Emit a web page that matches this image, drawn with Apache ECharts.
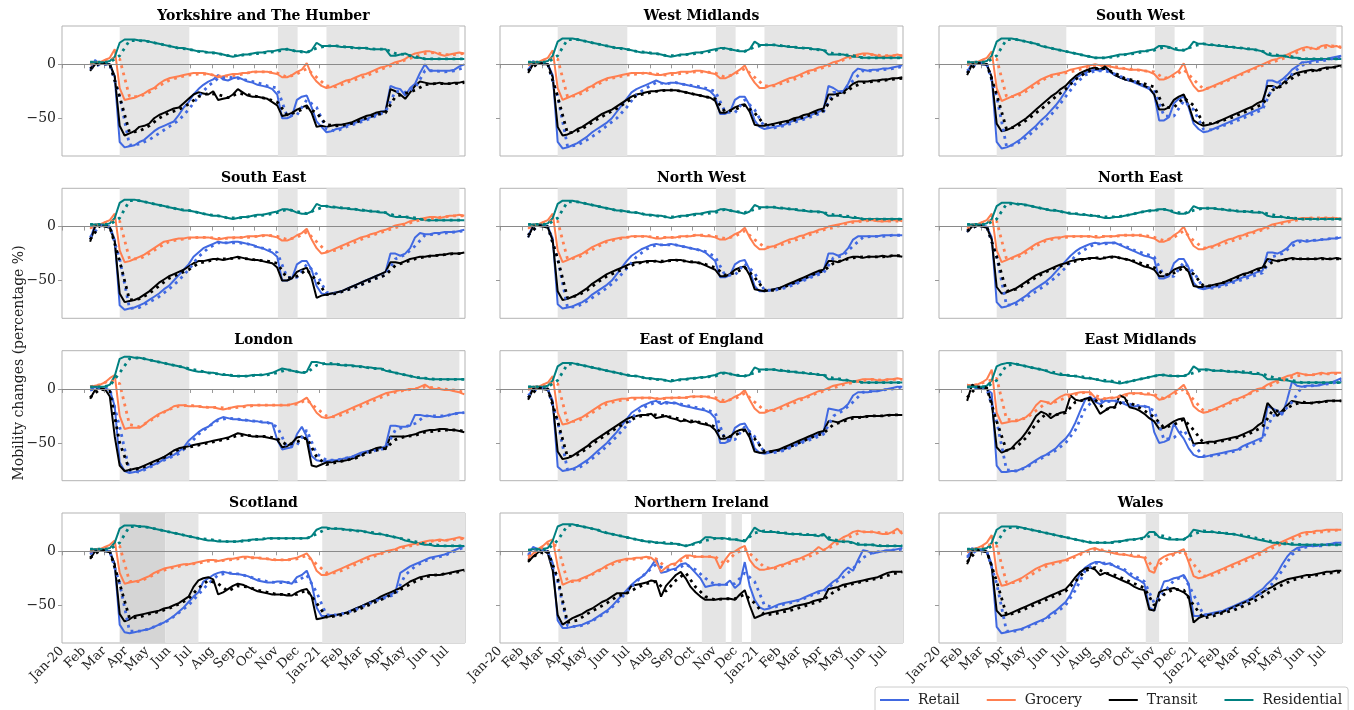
<!DOCTYPE html>
<html><head><meta charset="utf-8">
<script src="https://cdn.jsdelivr.net/npm/echarts@6/dist/echarts.min.js"></script>
<style>html,body{margin:0;padding:0;background:#fff}#c{width:1354px;height:710px}</style>
</head><body><div id="c"></div>
<script>
// ---------- x grid (weekly observations) and tick labels ----------
const weekDates = ['2020-02-10','2020-02-17','2020-02-24','2020-03-02','2020-03-09','2020-03-16','2020-03-23','2020-03-30','2020-04-06','2020-04-13',
'2020-04-20','2020-04-27','2020-05-04','2020-05-11','2020-05-18','2020-05-25','2020-06-01','2020-06-08','2020-06-15','2020-06-22',
'2020-06-29','2020-07-06','2020-07-13','2020-07-20','2020-07-27','2020-08-03','2020-08-10','2020-08-17','2020-08-24','2020-08-31',
'2020-09-07','2020-09-14','2020-09-21','2020-09-28','2020-10-05','2020-10-12','2020-10-19','2020-10-26','2020-11-02','2020-11-09',
'2020-11-16','2020-11-23','2020-11-30','2020-12-07','2020-12-14','2020-12-21','2020-12-28','2021-01-04','2021-01-11','2021-01-18',
'2021-01-25','2021-02-01','2021-02-08','2021-02-15','2021-02-22','2021-03-01','2021-03-08','2021-03-15','2021-03-22','2021-03-29',
'2021-04-05','2021-04-12','2021-04-19','2021-04-26','2021-05-03','2021-05-10','2021-05-17','2021-05-24','2021-05-31','2021-06-07',
'2021-06-14','2021-06-21','2021-06-28','2021-07-05','2021-07-12','2021-07-19','2021-07-26'];
const monthTicks = ['2020-01-01','2020-02-01','2020-03-01','2020-04-01','2020-05-01','2020-06-01','2020-07-01','2020-08-01','2020-09-01','2020-10-01','2020-11-01','2020-12-01','2021-01-01','2021-02-01','2021-03-01','2021-04-01','2021-05-01','2021-06-01','2021-07-01'];
const monthNames = ['Jan','Feb','Mar','Apr','May','Jun','Jul','Aug','Sep','Oct','Nov','Dec'];
const xRange = ['2020-01-01','2021-07-27'];
const yTicks = [-50, 0];
const seriesNames = ['Retail','Grocery','Transit','Residential'];

// ---------- shaded restriction periods ----------
const englandShade = [['2020-03-23','2020-06-30'],['2020-11-03','2020-12-01'],['2021-01-11','2021-07-19']];
const scotlandShade = [['2020-03-23','2020-05-27','#d5d5d5'],['2020-05-27','2020-07-13'],['2021-01-05','2021-07-27']];
const niShade = [['2020-03-24','2020-06-30'],['2020-10-14','2020-11-17'],['2020-11-25','2020-12-10'],['2020-12-23','2021-07-27']];
const walesShade = [['2020-03-23','2020-06-30'],['2020-10-21','2020-11-09'],['2020-12-20','2021-07-27']];

// ---------- Yorkshire and The Humber ----------
const YH_R = [-5,4,0,1,0,-12,-72,-77,-76,-75,
 -72,-70,-66,-62,-59,-57,-55,-53,-47,-40,
 -35,-28,-23,-19,-16,-14,-10,-14,-15,-13,
 -12,-14,-16,-17,-19,-20,-21,-23,-28,-50,
 -50,-48,-33,-30,-29,-40,-53,-58,-63,-62,
 -60,-59,-57,-55,-54,-52,-51,-49,-47,-44,
 -43,-20,-22,-23,-29,-22,-18,-8,0,-6,
 -6,-6,-6,-6,-5,-2,0];
const YH_G = [0,2,2,4,6,14,-22,-33,-32,-31,
 -29,-27,-24,-22,-18,-15,-13,-12,-11,-10,
 -9,-8,-8,-8,-9,-10,-12,-11,-10,-9,
 -9,-8,-8,-7,-7,-7,-7,-8,-9,-12,
 -12,-10,-7,-5,1,-10,-16,-20,-22,-21,
 -19,-17,-15,-14,-12,-10,-9,-7,-5,-3,
 -2,0,2,3,5,8,10,11,12,12,
 11,9,8,9,10,11,10];
const YH_T = [-6,0,1,0,0,-11,-57,-66,-64,-62,
 -58,-57,-55,-50,-47,-45,-43,-41,-40,-36,
 -32,-28,-26,-27,-28,-25,-33,-32,-31,-28,
 -23,-26,-29,-30,-30,-31,-32,-35,-38,-48,
 -47,-45,-42,-40,-38,-45,-58,-57,-58,-57,
 -56,-56,-55,-54,-52,-50,-48,-47,-45,-44,
 -44,-23,-25,-28,-32,-26,-20,-16,-17,-18,
 -18,-17,-18,-18,-17,-17,-16];
const YH_H = [2,2,2,2,3,7,20,23,23,23,
 22,22,21,20,19,18,17,16,15,15,
 14,13,12,12,11,11,10,9,8,7,
 8,9,9,10,11,11,12,12,13,14,
 14,13,12,12,11,13,20,17,17,17,
 17,16,16,16,15,15,15,14,14,14,
 14,8,8,9,10,8,6,6,5,5,
 5,5,5,5,5,5,5];
const YH_Rf = [-4,0,0,-30,-75,-74,-70,-64,-58,-52, -42,-30,-20,-13,-12,-13,-15,-17,-20,-22, -48,-47,-33,-40,-60,-62,-58,-55,-52,-48, -44,-25,-26,-22,-6,-6,-7,-6,-3];
const YH_Gf = [0,2,5,5,-30,-30,-26,-20,-15,-12, -10,-9,-9,-11,-11,-10,-8,-7,-7,-8, -12,-9,-4,-12,-20,-21,-17,-14,-11,-7, -3,0,4,7,10,11,9,9,10];
const YH_Tf = [-4,1,0,-30,-63,-62,-57,-50,-45,-42, -37,-30,-27,-28,-31,-27,-28,-30,-32,-35, -47,-44,-40,-45,-56,-57,-56,-54,-50,-47, -45,-30,-27,-24,-19,-18,-18,-18,-17];
const YH_Hf = [2,2,2,8,22,22,21,19,17,15, 14,12,11,10,8,8,9,10,11,12, 14,12,11,15,17,17,16,15,15,14, 14,10,9,7,5,5,5,5,5];

// ---------- West Midlands ----------
const WM_R = [-6,3,1,1,0,-10,-72,-78,-77,-75,
 -73,-70,-67,-63,-60,-57,-54,-50,-44,-38,
 -32,-26,-23,-21,-19,-17,-15,-17,-18,-17,
 -17,-18,-19,-20,-21,-22,-23,-25,-30,-46,
 -46,-44,-33,-30,-30,-38,-52,-58,-60,-59,
 -58,-57,-56,-54,-52,-51,-50,-48,-46,-44,
 -42,-20,-22,-25,-25,-18,-8,-4,-5,-6,
 -5,-5,-4,-4,-3,-2,-1];
const WM_G = [-1,2,2,4,6,13,-22,-33,-31,-29,
 -27,-25,-22,-20,-17,-15,-13,-12,-11,-10,
 -9,-8,-8,-8,-8,-9,-10,-10,-9,-8,
 -8,-7,-7,-7,-6,-6,-7,-8,-9,-13,
 -13,-11,-8,-5,-1,-10,-17,-22,-22,-20,
 -19,-17,-15,-13,-12,-10,-8,-6,-5,-3,
 -2,0,2,3,5,7,8,9,10,10,
 9,8,7,8,8,9,8];
const WM_T = [-8,0,1,0,0,-12,-58,-66,-65,-63,
 -60,-58,-55,-52,-49,-46,-44,-42,-39,-36,
 -33,-30,-28,-27,-26,-25,-25,-24,-24,-24,
 -24,-25,-26,-27,-28,-29,-30,-31,-34,-45,
 -45,-43,-40,-38,-37,-44,-56,-57,-57,-56,
 -55,-54,-53,-52,-50,-49,-47,-46,-44,-42,
 -41,-28,-28,-27,-26,-22,-18,-16,-16,-16,
 -15,-15,-14,-14,-13,-13,-12];
const WM_H = [2,2,2,2,3,8,21,24,24,24,
 23,22,21,20,19,18,17,16,15,15,
 14,13,12,11,11,10,10,9,8,7,
 8,9,9,10,11,11,12,13,14,15,
 15,14,13,12,12,14,21,18,18,18,
 18,17,17,16,16,15,15,15,14,14,
 13,9,9,9,9,8,7,7,6,6,
 6,6,6,6,6,6,6];
const WM_Rf = [-5,1,0,-30,-76,-75,-70,-64,-57,-50, -40,-28,-22,-17,-18,-17,-19,-20,-22,-25, -44,-45,-33,-42,-58,-59,-57,-54,-51,-48, -44,-26,-25,-15,-6,-6,-5,-4,-2];
const WM_Gf = [0,2,5,5,-30,-29,-24,-19,-14,-12, -10,-9,-8,-9,-10,-9,-8,-7,-7,-8, -12,-9,-4,-12,-20,-20,-17,-14,-10,-6, -3,0,4,7,9,9,8,8,8];
const WM_Tf = [-6,1,0,-30,-64,-62,-57,-51,-46,-41, -35,-29,-27,-25,-24,-24,-26,-28,-30,-32, -44,-42,-38,-45,-56,-56,-54,-52,-49,-46, -43,-30,-27,-21,-17,-16,-15,-14,-13];
const WM_Hf = [2,2,2,8,23,23,21,19,17,15, 14,12,11,10,8,8,9,10,11,13, 15,13,12,16,18,18,17,16,15,14, 13,10,9,8,6,6,6,6,6];

// ---------- South West ----------
const SW_R = [-8,2,1,0,-1,-12,-72,-78,-77,-75,
 -72,-69,-65,-61,-57,-52,-48,-43,-38,-32,
 -25,-18,-13,-10,-8,-6,-5,-6,-4,-7,
 -10,-12,-14,-15,-17,-19,-21,-23,-28,-52,
 -52,-49,-36,-32,-30,-40,-55,-60,-63,-62,
 -60,-58,-56,-54,-52,-50,-48,-46,-44,-42,
 -40,-15,-15,-17,-14,-10,-5,-2,2,2,
 3,4,4,5,6,7,8];
const SW_G = [-1,2,2,4,6,12,-22,-34,-32,-30,
 -28,-26,-23,-20,-17,-14,-12,-10,-9,-8,
 -7,-5,-4,-3,-2,-1,0,-1,-1,-2,
 -3,-4,-4,-5,-5,-5,-6,-7,-9,-14,
 -14,-12,-9,-6,1,-12,-20,-25,-24,-22,
 -20,-18,-16,-14,-12,-10,-8,-6,-4,-2,
 0,2,4,5,7,9,11,13,15,16,
 15,14,17,18,16,17,15];
const SW_T = [-10,0,1,0,0,-12,-55,-62,-61,-59,
 -56,-53,-50,-46,-42,-38,-34,-30,-27,-23,
 -20,-15,-11,-8,-6,-4,-3,-5,-2,-6,
 -10,-12,-14,-15,-16,-18,-20,-22,-28,-42,
 -42,-40,-33,-30,-28,-38,-52,-55,-57,-56,
 -55,-53,-51,-49,-47,-45,-43,-41,-39,-36,
 -34,-20,-20,-22,-18,-14,-10,-8,-7,-6,
 -5,-6,-4,-3,-3,-2,-1];
const SW_H = [2,2,2,2,3,8,21,24,24,24,
 23,22,21,20,19,17,16,15,14,13,
 12,11,10,9,8,7,6,6,6,7,
 8,9,9,10,11,12,12,13,14,17,
 17,16,14,13,13,15,21,19,19,18,
 18,17,17,16,16,15,15,14,14,13,
 12,9,8,8,8,7,6,6,5,5,
 5,5,5,5,5,5,5];
const SW_Rf = [-6,1,0,-30,-76,-74,-68,-60,-52,-42, -30,-18,-10,-6,-6,-9,-13,-16,-20,-24, -48,-48,-34,-42,-60,-61,-57,-54,-50,-46, -42,-22,-17,-9,-1,2,3,5,7];
const SW_Gf = [0,2,5,5,-30,-30,-25,-19,-13,-10, -8,-6,-3,-1,-1,-2,-4,-5,-6,-7, -13,-11,-5,-14,-23,-21,-17,-13,-9,-5, -1,2,5,9,13,15,15,17,16];
const SW_Tf = [-8,1,0,-28,-60,-58,-52,-45,-38,-30, -23,-14,-8,-4,-4,-8,-13,-15,-18,-21, -40,-40,-31,-38,-55,-55,-52,-49,-45,-41, -37,-24,-20,-13,-8,-6,-5,-3,-2];
const SW_Hf = [2,2,2,8,23,23,21,19,16,14, 12,10,8,6,6,7,9,10,12,13, 16,15,13,17,19,18,17,16,15,14, 12,9,8,7,5,5,5,5,5];

// ---------- South East ----------
const SE_R = [-12,2,1,1,0,-12,-73,-77,-76,-75,
 -73,-71,-68,-65,-62,-58,-55,-50,-45,-40,
 -35,-28,-24,-20,-18,-16,-14,-15,-15,-14,
 -14,-15,-16,-17,-19,-20,-22,-24,-28,-50,
 -50,-48,-35,-32,-32,-40,-55,-62,-63,-62,
 -61,-60,-58,-56,-54,-52,-50,-48,-46,-44,
 -42,-25,-25,-27,-25,-20,-10,-6,-7,-7,
 -6,-6,-5,-5,-5,-4,-3];
const SE_G = [-2,2,2,4,6,12,-22,-33,-32,-30,
 -28,-26,-23,-20,-17,-14,-13,-12,-11,-11,
 -10,-10,-10,-10,-10,-11,-12,-11,-10,-10,
 -10,-10,-9,-9,-9,-8,-8,-9,-10,-13,
 -13,-11,-8,-6,-2,-12,-20,-25,-24,-22,
 -20,-18,-16,-14,-12,-10,-9,-7,-6,-4,
 -3,-1,1,2,3,5,6,7,8,9,
 9,8,9,10,10,11,10];
const SE_T = [-14,0,1,0,-1,-14,-62,-70,-69,-68,
 -66,-63,-60,-56,-52,-49,-46,-44,-42,-40,
 -37,-34,-32,-32,-31,-30,-30,-31,-30,-29,
 -28,-29,-30,-31,-31,-32,-33,-34,-38,-50,
 -50,-48,-42,-40,-38,-48,-66,-64,-63,-62,
 -61,-60,-58,-56,-54,-52,-50,-48,-46,-44,
 -42,-33,-33,-34,-32,-30,-29,-28,-28,-27,
 -27,-26,-26,-25,-25,-25,-24];
const SE_H = [2,2,2,2,3,8,22,25,25,25,
 24,23,22,21,20,19,18,17,16,15,
 15,14,13,12,11,10,10,9,8,7,
 8,9,9,10,11,11,12,13,14,16,
 16,15,13,12,12,14,21,19,19,18,
 18,17,17,16,16,15,15,14,14,13,
 13,10,9,9,9,8,7,7,6,6,
 6,6,6,6,6,6,6];
const SE_Rf = [-10,1,0,-30,-76,-75,-70,-65,-58,-50, -40,-28,-20,-15,-15,-15,-16,-19,-21,-24, -47,-47,-35,-44,-61,-62,-59,-56,-52,-48, -45,-30,-26,-18,-8,-7,-6,-5,-4];
const SE_Gf = [-1,2,5,5,-30,-30,-25,-19,-14,-12, -11,-10,-10,-11,-11,-10,-10,-9,-8,-9, -12,-10,-5,-14,-23,-22,-18,-14,-10,-7, -4,-1,2,5,7,8,9,10,10];
const SE_Tf = [-12,1,0,-32,-68,-67,-62,-55,-48,-44, -40,-34,-32,-30,-30,-29,-30,-31,-32,-34, -48,-46,-40,-50,-63,-62,-59,-56,-52,-48, -45,-36,-33,-30,-28,-27,-26,-25,-25];
const SE_Hf = [2,2,2,8,24,24,22,20,18,16, 15,13,11,10,8,8,9,10,11,13, 16,14,12,16,19,18,17,16,15,14, 13,10,9,8,6,6,6,6,6];

// ---------- North West ----------
const NW_R = [-10,2,1,1,0,-11,-72,-76,-75,-74,
 -72,-70,-67,-63,-60,-57,-54,-50,-44,-38,
 -32,-27,-24,-21,-19,-17,-16,-17,-17,-16,
 -17,-18,-19,-20,-21,-22,-24,-28,-32,-47,
 -47,-45,-35,-32,-31,-40,-55,-60,-60,-59,
 -58,-57,-56,-54,-53,-51,-49,-47,-45,-43,
 -41,-25,-25,-27,-25,-20,-12,-9,-9,-9,
 -9,-9,-8,-8,-8,-8,-8];
const NW_G = [-2,2,2,4,6,12,-22,-33,-31,-29,
 -27,-25,-22,-19,-17,-15,-13,-12,-11,-10,
 -10,-9,-9,-9,-9,-10,-11,-11,-10,-10,
 -10,-9,-9,-9,-8,-8,-9,-9,-10,-12,
 -12,-10,-7,-5,-1,-10,-17,-21,-21,-19,
 -18,-16,-14,-12,-11,-9,-8,-6,-5,-3,
 -2,0,1,2,3,4,5,5,6,6,
 6,5,5,5,6,6,5];
const NW_T = [-10,0,1,0,-1,-13,-60,-68,-67,-65,
 -63,-60,-57,-53,-50,-47,-44,-42,-40,-38,
 -36,-34,-33,-33,-32,-32,-32,-33,-32,-31,
 -31,-31,-32,-33,-33,-34,-36,-38,-40,-46,
 -46,-44,-40,-38,-37,-45,-58,-59,-60,-59,
 -58,-57,-55,-53,-51,-49,-47,-45,-43,-41,
 -40,-32,-32,-33,-31,-29,-28,-28,-29,-28,
 -28,-28,-27,-28,-27,-27,-28];
const NW_H = [2,2,2,2,3,8,21,24,24,24,
 23,22,21,20,19,18,17,16,15,15,
 14,13,13,12,11,11,10,10,9,8,
 9,10,10,11,12,12,13,14,14,16,
 16,15,14,13,12,14,20,18,18,18,
 18,17,17,16,16,15,15,14,14,14,
 13,10,10,10,9,9,8,8,7,7,
 7,7,7,7,7,7,7];
const NW_Rf = [-8,1,0,-30,-75,-74,-69,-63,-57,-49, -39,-28,-21,-17,-17,-17,-19,-21,-23,-28, -45,-45,-34,-43,-59,-59,-57,-54,-50,-46, -43,-29,-27,-18,-10,-9,-9,-8,-8];
const NW_Gf = [-1,2,5,5,-30,-29,-24,-19,-14,-12, -10,-9,-9,-10,-10,-10,-9,-8,-8,-9, -11,-9,-4,-12,-19,-19,-16,-13,-10,-6, -3,-1,2,4,5,6,5,5,5];
const NW_Tf = [-8,1,0,-30,-66,-64,-59,-52,-46,-42, -38,-34,-33,-32,-32,-31,-32,-33,-35,-38, -45,-43,-38,-47,-59,-59,-56,-52,-48,-44, -41,-34,-31,-29,-28,-28,-28,-27,-27];
const NW_Hf = [2,2,2,8,23,23,21,19,17,15, 14,13,11,10,9,9,10,11,12,13, 16,14,13,16,18,18,17,16,15,14, 13,11,10,9,7,7,7,7,7];

// ---------- North East ----------
const NE_R = [-5,2,1,1,0,-10,-70,-75,-74,-72,
 -70,-67,-64,-60,-57,-54,-51,-47,-42,-37,
 -32,-27,-23,-20,-18,-16,-15,-16,-15,-15,
 -15,-17,-19,-21,-23,-25,-27,-28,-30,-48,
 -48,-46,-34,-30,-30,-38,-52,-57,-58,-57,
 -56,-55,-54,-52,-51,-49,-47,-46,-44,-42,
 -41,-24,-24,-25,-23,-20,-15,-13,-13,-14,
 -13,-13,-12,-12,-11,-11,-10];
const NE_G = [-2,2,2,4,6,12,-22,-33,-31,-29,
 -27,-25,-22,-19,-16,-14,-12,-11,-10,-10,
 -9,-9,-9,-9,-9,-9,-10,-10,-9,-9,
 -9,-8,-8,-8,-8,-8,-9,-10,-11,-14,
 -14,-12,-8,-5,0,-10,-18,-21,-21,-19,
 -18,-16,-14,-12,-11,-9,-8,-6,-5,-3,
 -2,0,2,3,4,5,6,7,8,8,
 8,7,8,8,8,8,7];
const NE_T = [-5,0,1,0,-1,-12,-56,-62,-61,-59,
 -57,-54,-51,-48,-45,-43,-41,-39,-37,-35,
 -34,-32,-31,-30,-30,-29,-29,-30,-29,-28,
 -28,-29,-30,-31,-33,-35,-37,-38,-40,-46,
 -46,-44,-40,-38,-37,-42,-55,-56,-56,-55,
 -54,-53,-52,-50,-48,-46,-44,-43,-41,-39,
 -38,-30,-31,-32,-31,-30,-29,-30,-30,-30,
 -30,-30,-29,-30,-30,-29,-30];
const NE_H = [2,2,2,2,3,7,19,22,22,22,
 21,21,20,19,18,17,16,15,15,14,
 13,12,12,11,11,10,10,9,8,8,
 9,9,10,11,12,13,14,15,15,16,
 16,15,13,12,12,13,19,17,17,17,
 17,16,16,15,15,14,14,14,13,13,
 13,10,9,9,9,8,8,7,7,7,
 7,7,7,7,7,7,7];
const NE_Rf = [-4,1,0,-28,-73,-72,-66,-60,-54,-47, -38,-27,-21,-16,-16,-15,-18,-22,-25,-28, -46,-46,-33,-42,-57,-57,-55,-52,-49,-46, -43,-28,-25,-18,-13,-13,-12,-11,-10];
const NE_Gf = [-1,2,5,5,-30,-29,-24,-18,-13,-11, -10,-9,-9,-9,-9,-9,-8,-8,-8,-10, -13,-10,-4,-13,-20,-19,-16,-13,-10,-6, -3,0,3,5,7,8,8,8,7];
const NE_Tf = [-4,1,0,-28,-60,-58,-53,-47,-42,-38, -35,-32,-30,-29,-29,-28,-30,-32,-35,-38, -45,-43,-38,-44,-55,-55,-52,-49,-45,-42, -39,-33,-31,-30,-30,-30,-30,-30,-30];
const NE_Hf = [2,2,2,7,21,21,20,18,16,15, 13,12,11,10,9,9,10,12,14,15, 16,14,12,15,17,17,16,15,14,14, 13,11,9,8,7,7,7,7,7];

// ---------- London ----------
const LN_R = [-1,2,0,0,-1,-16,-68,-76,-78,-77,
 -76,-74,-72,-70,-68,-65,-63,-61,-58,-54,
 -48,-44,-40,-37,-35,-31,-28,-26,-27,-28,
 -28,-29,-29,-30,-30,-31,-31,-32,-47,-56,
 -55,-54,-42,-35,-44,-62,-66,-67,-67,-66,
 -66,-65,-64,-63,-61,-59,-58,-57,-56,-55,
 -53,-34,-34,-35,-35,-34,-24,-24,-25,-25,
 -26,-26,-25,-24,-23,-22,-22];
const LN_G = [2,3,4,6,10,13,-25,-37,-36,-36,
 -36,-33,-29,-26,-23,-21,-19,-16,-15,-15,
 -16,-16,-16,-17,-17,-17,-18,-19,-18,-17,
 -16,-16,-15,-15,-15,-15,-15,-15,-15,-15,
 -15,-14,-13,-11,-8,-15,-22,-26,-27,-26,
 -24,-22,-20,-18,-16,-14,-12,-10,-8,-6,
 -4,-3,-2,-1,-1,0,0,2,4,1,
 0,0,-1,-1,-2,-3,-5];
const LN_T = [-9,-1,1,0,-7,-44,-71,-76,-75,-74,
 -73,-71,-69,-67,-65,-63,-60,-57,-55,-54,
 -53,-52,-51,-50,-49,-48,-47,-46,-45,-43,
 -41,-42,-43,-44,-44,-44,-45,-46,-47,-54,
 -53,-50,-45,-44,-47,-71,-72,-70,-68,-68,
 -67,-67,-66,-65,-63,-61,-59,-57,-55,-54,
 -56,-44,-44,-44,-44,-43,-42,-40,-39,-38,
 -38,-37,-37,-38,-38,-39,-40];
const LN_H = [2,2,2,2,4,12,28,30,30,29,
 29,28,27,26,25,24,23,22,21,20,
 18,17,16,16,15,15,14,13,13,12,
 12,12,12,13,13,13,14,15,17,19,
 18,17,16,15,16,25,25,24,23,23,
 23,22,22,22,21,21,20,20,19,19,
 17,16,15,14,13,12,11,10,10,9,
 9,9,9,9,9,9,9];
const LN_Rf = [-1,1,0,-35,-76,-77,-73,-68,-64,-60, -52,-42,-35,-29,-27,-28,-29,-30,-31,-35, -54,-52,-38,-60,-66,-66,-64,-62,-59,-57, -55,-38,-35,-32,-25,-25,-25,-23,-22];
const LN_Gf = [2,4,8,5,-33,-35,-30,-24,-19,-16, -15,-16,-17,-17,-18,-17,-16,-15,-15,-15, -15,-14,-10,-18,-25,-26,-22,-18,-14,-10, -6,-3,-1,0,2,1,0,-1,-3];
const LN_Tf = [-8,0,-2,-50,-75,-74,-70,-66,-61,-56, -54,-52,-50,-48,-46,-43,-43,-44,-44,-46, -52,-49,-45,-63,-70,-68,-66,-64,-60,-57, -55,-47,-44,-43,-40,-39,-38,-38,-39];
const LN_Hf = [2,2,3,15,28,29,27,25,23,21, 19,17,15,14,13,12,12,13,13,15, 18,16,15,22,24,23,22,21,20,19, 18,15,13,11,10,9,9,9,9];

// ---------- East of England ----------
const EE_R = [-8,2,1,1,0,-11,-72,-76,-75,-74,
 -72,-69,-66,-62,-58,-54,-50,-45,-40,-34,
 -28,-22,-19,-16,-14,-12,-11,-14,-12,-13,
 -13,-15,-16,-17,-18,-19,-20,-22,-27,-50,
 -50,-48,-36,-33,-32,-40,-55,-59,-60,-59,
 -58,-57,-56,-54,-52,-50,-48,-46,-44,-42,
 -40,-18,-19,-20,-18,-14,-6,-3,-3,-3,
 -2,-2,-1,0,1,2,2];
const EE_G = [-1,2,2,4,6,12,-22,-33,-32,-30,
 -28,-26,-23,-20,-17,-14,-12,-11,-10,-9,
 -9,-8,-8,-8,-8,-8,-9,-9,-8,-8,
 -8,-8,-8,-7,-7,-7,-7,-8,-9,-12,
 -12,-10,-7,-5,-1,-10,-18,-22,-22,-20,
 -19,-17,-15,-13,-11,-9,-8,-6,-4,-2,
 -1,1,3,4,5,6,7,8,9,9,
 9,8,8,9,9,10,9];
const EE_T = [-10,0,1,0,-1,-13,-58,-65,-64,-62,
 -59,-56,-53,-49,-46,-43,-40,-37,-34,-31,
 -28,-26,-25,-24,-24,-23,-27,-26,-25,-27,
 -28,-30,-29,-31,-30,-32,-33,-34,-38,-46,
 -46,-44,-40,-38,-37,-45,-58,-59,-59,-58,
 -57,-56,-54,-52,-50,-48,-46,-44,-42,-40,
 -39,-30,-30,-31,-29,-27,-26,-26,-26,-25,
 -25,-25,-25,-24,-24,-24,-24];
const EE_H = [2,2,2,2,3,8,21,24,24,24,
 23,22,21,20,19,18,17,16,15,14,
 13,12,12,11,10,10,9,9,8,7,
 8,9,9,10,10,11,11,12,13,15,
 15,14,13,12,12,13,20,18,18,18,
 18,17,17,16,16,15,15,14,14,13,
 13,9,9,9,8,8,7,7,6,6,
 6,6,6,6,6,6,6];
const EE_Rf = [-6,1,0,-30,-75,-74,-68,-61,-53,-44, -34,-22,-16,-12,-13,-13,-15,-17,-19,-22, -47,-47,-35,-44,-59,-59,-57,-53,-49,-46, -42,-25,-20,-12,-3,-2,-1,0,2];
const EE_Gf = [0,2,5,5,-30,-30,-25,-19,-14,-11, -10,-9,-8,-9,-9,-8,-8,-7,-7,-8, -11,-9,-4,-12,-20,-20,-17,-13,-9,-5, -2,1,4,6,8,9,8,9,9];
const EE_Tf = [-8,1,0,-30,-63,-61,-55,-48,-42,-36, -31,-26,-24,-24,-25,-27,-29,-30,-32,-35, -45,-43,-38,-46,-58,-58,-55,-52,-48,-44, -41,-33,-30,-27,-26,-25,-25,-24,-24];
const EE_Hf = [2,2,2,8,23,23,21,19,17,15, 13,12,10,9,8,8,9,10,11,12, 15,13,12,15,18,18,17,16,15,14, 13,10,9,7,6,6,6,6,6];

// ---------- East Midlands ----------
const EM_R = [4,3,1,1,0,-4,-71,-77,-77,-76,
 -76,-74,-72,-69,-66,-63,-61,-58,-55,-50,
 -46,-40,-31,-20,-10,-7,-12,-14,-11,-11,
 -11,-12,-14,-16,-16,-16,-16,-17,-40,-50,
 -49,-47,-32,-40,-46,-55,-61,-63,-63,-62,
 -61,-60,-59,-58,-57,-56,-53,-51,-49,-47,
 -45,-16,-18,-20,-24,-10,7,3,2,3,
 3,3,4,5,6,8,10];
const EM_G = [4,3,4,6,9,18,-22,-32,-31,-30,
 -30,-28,-26,-22,-15,-11,-12,-14,-10,-7,
 -5,-5,-4,-3,-3,-3,-8,-10,-9,-8,
 -8,-7,-5,-4,-4,-4,-5,-5,-6,-10,
 -9,-6,-3,0,4,-5,-16,-20,-22,-21,
 -19,-17,-15,-13,-10,-9,-7,-5,-2,0,
 1,4,6,8,10,12,13,15,14,13,
 13,14,15,14,15,15,15];
const EM_T = [-11,4,2,1,1,-13,-54,-59,-57,-55,
 -50,-46,-40,-33,-25,-21,-23,-27,-24,-22,
 -21,-6,-10,-11,-9,-8,-15,-23,-20,-17,
 -17,-6,-8,-17,-18,-20,-23,-27,-30,-37,
 -36,-33,-30,-28,-27,-40,-51,-50,-50,-49,
 -49,-48,-47,-46,-45,-44,-42,-40,-38,-34,
 -31,-13,-18,-25,-20,-15,-11,-12,-13,-13,
 -13,-12,-12,-11,-11,-11,-11];
const EM_H = [2,2,2,2,3,8,21,23,24,24,
 23,22,21,20,19,18,17,15,14,13,
 13,12,12,11,10,10,9,8,7,7,
 6,5,6,7,8,9,10,11,12,13,
 13,12,12,12,12,14,21,18,18,18,
 17,17,17,16,16,16,15,15,14,14,
 13,9,9,9,8,8,7,6,6,6,
 6,6,6,6,6,6,6];
const EM_Rf = [2,1,0,-30,-75,-76,-73,-67,-62,-57, -50,-38,-18,-9,-12,-11,-13,-15,-16,-20, -47,-45,-38,-52,-62,-62,-60,-58,-55,-51, -47,-25,-22,-12,2,3,4,5,8];
const EM_Gf = [3,4,7,10,-28,-29,-27,-20,-13,-12, -8,-5,-3,-6,-9,-8,-6,-4,-4,-5, -9,-5,0,-10,-20,-20,-16,-12,-8,-3, 0,4,8,11,13,13,14,14,15];
const EM_Tf = [-8,2,1,-30,-57,-54,-45,-32,-23,-24, -22,-12,-10,-10,-19,-17,-10,-15,-20,-26, -36,-33,-28,-38,-50,-50,-48,-46,-44,-40, -35,-20,-21,-15,-12,-13,-12,-11,-11];
const EM_Hf = [2,2,2,8,22,23,21,19,17,15, 13,12,11,9,8,7,6,8,10,12, 13,12,12,15,18,17,17,16,16,15, 14,11,9,8,6,6,6,6,6];

// ---------- Scotland ----------
const SC_R = [-3,2,1,1,0,-12,-68,-75,-76,-75,
 -74,-73,-72,-70,-68,-66,-63,-60,-56,-52,
 -47,-42,-38,-28,-25,-22,-20,-19,-20,-21,
 -21,-22,-23,-25,-27,-28,-29,-29,-28,-28,
 -29,-30,-24,-22,-18,-30,-52,-60,-60,-59,
 -59,-58,-57,-55,-53,-51,-49,-47,-45,-44,
 -42,-40,-38,-20,-17,-14,-12,-10,-8,-6,
 -5,-4,-3,-1,1,3,5];
const SC_G = [0,2,2,4,6,10,-20,-30,-29,-28,
 -27,-25,-23,-20,-18,-16,-15,-14,-13,-12,
 -12,-11,-10,-9,-8,-8,-9,-8,-7,-7,
 -6,-5,-5,-6,-6,-7,-7,-8,-8,-8,
 -8,-7,-6,-4,-2,-8,-18,-22,-22,-20,
 -18,-16,-14,-12,-10,-8,-6,-4,-3,-2,
 0,1,2,4,5,6,7,8,9,10,
 10,11,10,11,12,13,12];
const SC_T = [-7,0,1,0,-1,-12,-58,-65,-63,-60,
 -59,-58,-57,-56,-55,-53,-52,-50,-48,-45,
 -42,-33,-27,-25,-24,-26,-40,-38,-35,-32,
 -30,-31,-33,-35,-37,-38,-39,-40,-40,-40,
 -41,-41,-38,-36,-35,-42,-63,-62,-61,-60,
 -59,-58,-57,-55,-53,-51,-49,-47,-45,-42,
 -40,-38,-36,-34,-31,-28,-26,-24,-23,-22,
 -22,-22,-21,-20,-19,-18,-17];
const SC_H = [2,2,2,2,3,8,21,24,24,24,
 23,23,22,21,20,19,18,17,16,15,
 14,13,12,11,10,10,9,9,9,9,
 9,10,10,11,11,11,12,12,12,12,
 12,12,12,12,12,14,20,22,22,21,
 21,21,20,20,19,19,18,17,16,16,
 15,14,13,12,10,9,8,7,6,6,
 5,5,5,5,5,5,5];
const SC_Rf = [-2,1,0,-30,-74,-74,-72,-68,-64,-57, -50,-40,-30,-22,-20,-21,-23,-26,-28,-29, -29,-28,-22,-38,-59,-59,-57,-54,-50,-46, -43,-40,-22,-14,-9,-6,-4,0,4];
const SC_Gf = [0,2,4,5,-28,-28,-24,-19,-16,-14, -12,-11,-9,-9,-8,-7,-6,-6,-7,-8, -8,-7,-4,-12,-20,-20,-16,-12,-8,-4, -1,1,4,6,8,10,10,11,12];
const SC_Tf = [-6,1,0,-30,-62,-61,-58,-56,-53,-49, -44,-34,-27,-30,-37,-32,-33,-36,-38,-40, -40,-40,-36,-48,-61,-60,-58,-55,-51,-47, -43,-38,-33,-28,-24,-22,-21,-20,-18];
const SC_Hf = [2,2,2,8,23,23,22,20,18,16, 14,12,11,10,9,9,10,11,12,12, 12,12,12,16,21,21,20,19,18,17, 15,13,11,9,7,6,5,5,5];

// ---------- Northern Ireland ----------
const NI_R = [-4,4,2,1,0,-11,-64,-71,-71,-70,
 -69,-68,-66,-64,-61,-58,-55,-51,-46,-41,
 -36,-31,-27,-24,-20,-14,-7,-20,-19,-17,
 -16,-12,-11,-15,-20,-25,-33,-32,-31,-31,
 -31,-27,-34,-30,-10,-32,-45,-52,-54,-53,
 -51,-49,-48,-47,-46,-45,-43,-41,-39,-37,
 -36,-32,-28,-25,-19,-15,-18,-8,1,0,
 -2,-1,0,1,1,2,3];
const NI_G = [-7,-2,2,5,9,11,-14,-31,-29,-27,
 -27,-25,-23,-21,-18,-16,-13,-11,-9,-8,
 -7,-7,-6,-6,-5,-6,-10,-19,-15,-12,
 -11,-7,-4,-4,-5,-5,-5,-5,-6,-16,
 -8,-2,0,3,5,-8,-14,-17,-17,-16,
 -15,-13,-12,-10,-8,-7,-5,-3,0,4,
 1,4,8,10,13,15,18,19,18,18,
 18,17,16,16,18,21,16];
const NI_T = [-10,-5,-1,1,-2,-18,-59,-68,-65,-62,
 -60,-58,-55,-53,-50,-47,-45,-42,-39,-39,
 -39,-32,-31,-30,-29,-27,-28,-42,-32,-27,
 -22,-19,-25,-33,-38,-42,-45,-45,-45,-44,
 -44,-44,-45,-40,-36,-50,-62,-60,-58,-57,
 -56,-55,-54,-53,-51,-50,-49,-48,-46,-45,
 -44,-35,-34,-33,-31,-30,-29,-28,-27,-26,
 -25,-24,-22,-20,-19,-19,-19];
const NI_H = [1,2,2,2,3,10,23,25,25,25,
 24,23,22,21,20,18,17,16,15,14,
 13,12,11,10,9,9,8,8,7,7,
 7,6,5,6,8,9,13,13,12,12,
 12,11,11,10,9,15,22,19,18,18,
 18,17,17,16,16,16,15,15,15,14,
 16,11,10,9,9,9,8,6,6,6,
 6,5,5,5,5,5,5];
const NI_Rf = [-3,2,0,-28,-69,-70,-67,-62,-56,-48, -38,-28,-20,-12,-17,-17,-12,-17,-25,-31, -31,-30,-20,-28,-50,-52,-49,-47,-44,-40, -37,-30,-24,-16,-6,-1,0,1,2];
const NI_Gf = [-5,1,7,5,-28,-28,-24,-19,-15,-10, -8,-7,-6,-7,-15,-12,-6,-5,-5,-5, -12,-2,2,-6,-15,-16,-13,-10,-7,-3, 1,5,10,15,18,18,17,17,18];
const NI_Tf = [-9,-2,0,-25,-66,-64,-58,-53,-48,-42, -39,-34,-30,-28,-37,-27,-20,-33,-42,-45, -44,-44,-40,-48,-59,-58,-56,-54,-51,-48, -45,-38,-33,-30,-28,-26,-24,-21,-19];
const NI_Hf = [1,2,2,10,24,24,22,20,17,15, 13,11,9,8,8,7,5,7,10,12, 12,11,10,17,19,18,17,16,16,15, 15,11,9,8,6,6,5,5,5];

// ---------- Wales ----------
const WA_R = [-6,3,1,1,0,-12,-70,-76,-75,-74,
 -73,-72,-70,-68,-66,-64,-62,-58,-55,-51,
 -47,-40,-30,-20,-15,-12,-10,-10,-12,-11,
 -14,-16,-18,-22,-25,-27,-30,-52,-55,-40,
 -28,-27,-25,-24,-22,-30,-60,-60,-59,-58,
 -57,-56,-55,-53,-51,-49,-47,-45,-42,-38,
 -35,-30,-26,-20,-12,-5,0,3,4,5,
 5,5,6,6,7,8,8];
const WA_G = [-1,2,3,5,8,15,-20,-32,-31,-29,
 -27,-25,-22,-19,-16,-14,-12,-11,-10,-9,
 -8,-6,-4,-2,0,2,3,1,0,-1,
 -2,-3,-3,-4,-5,-5,-6,-18,-20,-8,
 -5,-3,-2,0,2,-10,-23,-25,-24,-22,
 -20,-18,-16,-14,-12,-10,-8,-6,-4,-2,
 0,3,5,7,9,11,13,15,17,18,
 18,19,19,20,20,20,20];
const WA_T = [-12,0,1,0,-1,-14,-55,-60,-59,-57,
 -55,-53,-51,-49,-47,-45,-43,-41,-39,-37,
 -35,-30,-24,-19,-16,-15,-17,-22,-20,-22,
 -24,-26,-28,-30,-33,-35,-36,-54,-55,-38,
 -36,-35,-34,-36,-38,-42,-66,-62,-60,-59,
 -58,-57,-56,-54,-52,-50,-48,-46,-44,-41,
 -38,-35,-33,-30,-28,-26,-25,-24,-23,-22,
 -22,-21,-20,-19,-19,-18,-18];
const WA_H = [2,2,2,2,3,8,20,23,23,23,
 23,22,21,20,19,18,17,16,15,14,
 13,12,11,10,9,8,8,8,8,8,
 9,9,10,11,11,12,13,18,18,13,
 12,11,11,11,11,14,20,19,18,18,
 18,17,17,16,16,15,14,13,12,11,
 10,9,8,8,7,7,6,6,6,6,
 6,6,6,6,6,6,6];
const WA_Rf = [-5,1,0,-30,-74,-74,-71,-67,-63,-57, -50,-36,-18,-11,-11,-13,-17,-23,-28,-48, -38,-27,-23,-40,-59,-58,-56,-53,-49,-44, -38,-30,-18,-3,3,5,5,7,8];
const WA_Gf = [0,2,6,5,-29,-29,-25,-19,-14,-11, -9,-5,-1,2,1,-1,-3,-4,-5,-16, -9,-3,0,-12,-23,-22,-18,-14,-10,-6, -2,3,7,11,15,17,18,19,20];
const WA_Tf = [-10,1,0,-28,-59,-57,-53,-49,-45,-41, -37,-28,-18,-15,-20,-22,-26,-30,-34,-50, -40,-35,-36,-50,-62,-60,-57,-55,-51,-47, -42,-36,-31,-27,-24,-23,-21,-20,-19];
const WA_Hf = [2,2,2,8,22,22,21,19,17,15, 13,11,9,8,8,8,10,11,12,16, 14,11,11,16,19,18,17,16,15,13, 11,9,7,7,6,6,6,6,6];

// ---------- assembly ----------
const regions = [
 {name:'Yorkshire and The Humber', s:[YH_R,YH_G,YH_T,YH_H], f:[YH_Rf,YH_Gf,YH_Tf,YH_Hf], shade:englandShade},
 {name:'West Midlands', s:[WM_R,WM_G,WM_T,WM_H], f:[WM_Rf,WM_Gf,WM_Tf,WM_Hf], shade:englandShade},
 {name:'South West', s:[SW_R,SW_G,SW_T,SW_H], f:[SW_Rf,SW_Gf,SW_Tf,SW_Hf], shade:englandShade},
 {name:'South East', s:[SE_R,SE_G,SE_T,SE_H], f:[SE_Rf,SE_Gf,SE_Tf,SE_Hf], shade:englandShade},
 {name:'North West', s:[NW_R,NW_G,NW_T,NW_H], f:[NW_Rf,NW_Gf,NW_Tf,NW_Hf], shade:englandShade},
 {name:'North East', s:[NE_R,NE_G,NE_T,NE_H], f:[NE_Rf,NE_Gf,NE_Tf,NE_Hf], shade:englandShade},
 {name:'London', s:[LN_R,LN_G,LN_T,LN_H], f:[LN_Rf,LN_Gf,LN_Tf,LN_Hf], shade:englandShade},
 {name:'East of England', s:[EE_R,EE_G,EE_T,EE_H], f:[EE_Rf,EE_Gf,EE_Tf,EE_Hf], shade:englandShade},
 {name:'East Midlands', s:[EM_R,EM_G,EM_T,EM_H], f:[EM_Rf,EM_Gf,EM_Tf,EM_Hf], shade:englandShade},
 {name:'Scotland', s:[SC_R,SC_G,SC_T,SC_H], f:[SC_Rf,SC_Gf,SC_Tf,SC_Hf], shade:scotlandShade},
 {name:'Northern Ireland', s:[NI_R,NI_G,NI_T,NI_H], f:[NI_Rf,NI_Gf,NI_Tf,NI_Hf], shade:niShade},
 {name:'Wales', s:[WA_R,WA_G,WA_T,WA_H], f:[WA_Rf,WA_Gf,WA_Tf,WA_Hf], shade:walesShade}
];

const COLORS = ['#4169E1','#FF7F50','#000000','#008080'];
const LEFTS = [62, 500, 939], TOPS = [26, 188.3, 350.7, 513], PW = 403, PH = 130;
const FONT = '"DejaVu Serif", serif';

function ts(s){ const p = s.split('-'); return new Date(+p[0], +p[1]-1, +p[2]).getTime(); }
const X = weekDates.map(ts);
const XF = X.filter((_, i) => i % 2 === 0);
const XMIN = ts(xRange[0]), XMAX = ts(xRange[1]);
const TICKS = monthTicks.map(ts);
function fmtX(v){ const d = new Date(v); const m = d.getMonth(); return m === 0 ? 'Jan-' + String(d.getFullYear()).slice(2) : monthNames[m]; }

const grids = [], xAxes = [], yAxes = [], series = [], graphics = [];
regions.forEach((r, k) => {
  const col = k % 3, row = Math.floor(k / 3);
  const L = LEFTS[col], T = TOPS[row];
  grids.push({left: L, top: T, width: PW, height: PH, show: true, borderColor: '#b3b3b3', borderWidth: 1, backgroundColor: 'rgba(0,0,0,0)'});
  xAxes.push({type: 'value', gridIndex: k, min: XMIN, max: XMAX, scale: true,
    axisLine: {show: false}, splitLine: {show: false},
    axisTick: {show: true, customValues: TICKS, length: 4, lineStyle: {color: '#9a9a9a'}},
    axisLabel: {show: row === 3, customValues: TICKS, rotate: 45, formatter: fmtX, fontFamily: FONT, fontSize: 13, color: '#222', margin: 6}
  });
  yAxes.push({type: 'value', gridIndex: k, min: -85, max: 35.5,
    axisLine: {show: false}, splitLine: {show: false},
    axisTick: {show: true, customValues: yTicks, length: 4, lineStyle: {color: '#9a9a9a'}},
    axisLabel: {show: col === 0, customValues: yTicks, formatter: v => v < 0 ? '\u2212' + (-v) : String(v), fontFamily: FONT, fontSize: 14, color: '#222', margin: 6}
  });
  series.push({type: 'line', xAxisIndex: k, yAxisIndex: k, z: 1, silent: true, symbol: 'none',
    data: [[XMIN, 0], [XMAX, 0]], lineStyle: {opacity: 0, width: 0},
    markArea: {silent: true, itemStyle: {color: '#e5e5e5', borderWidth: 0},
      data: r.shade.map(s => [{xAxis: ts(s[0]), itemStyle: {color: s[2] || '#e5e5e5'}}, {xAxis: ts(s[1])}])},
    markLine: {silent: true, symbol: 'none', label: {show: false}, animation: false,
      lineStyle: {color: '#8a8a8a', width: 1, type: 'solid'}, data: [{yAxis: 0}]}
  });
  for (let j = 0; j < 4; j++) {
    series.push({type: 'line', name: seriesNames[j], xAxisIndex: k, yAxisIndex: k, z: 3, silent: true, symbol: 'none',
      data: X.map((x, i) => [x, r.s[j][i]]),
      lineStyle: {color: COLORS[j], width: 2}, itemStyle: {color: COLORS[j]}});
  }
  for (let j = 0; j < 4; j++) {
    series.push({type: 'line', name: seriesNames[j] + ' model', xAxisIndex: k, yAxisIndex: k, z: 3, silent: true, symbol: 'none',
      data: XF.map((x, i) => [x, r.f[j][i]]),
      lineStyle: {color: COLORS[j], width: 2.8, type: [2.8, 4.6]}, itemStyle: {color: COLORS[j]}});
  }
  graphics.push({type: 'text', x: L + PW / 2, y: T - 10, silent: true,
    style: {text: r.name, align: 'center', verticalAlign: 'middle', font: 'bold 14px ' + FONT, fill: '#000'}});
});
graphics.push({type: 'text', x: 19, y: 363, rotation: Math.PI / 2, silent: true,
  style: {text: 'Mobility changes (percentage %)', align: 'center', verticalAlign: 'middle', font: '14px ' + FONT, fill: '#222'}});

const chart = echarts.init(document.getElementById('c'), null, {renderer: 'canvas', width: 1354, height: 710});
chart.setOption({
  animation: false,
  backgroundColor: '#ffffff',
  grid: grids, xAxis: xAxes, yAxis: yAxes, series: series, graphic: graphics,
  legend: {data: seriesNames, left: 875, top: 687, orient: 'horizontal', icon: 'rect',
    itemWidth: 29, itemHeight: 2, itemGap: 27, padding: [6, 6, 10, 5],
    backgroundColor: '#fff', borderColor: '#cccccc', borderWidth: 1, borderRadius: 3,
    textStyle: {fontFamily: FONT, fontSize: 14, color: '#222', padding: [0, 0, 0, 4]}, selectedMode: false}
});
</script></body></html>
